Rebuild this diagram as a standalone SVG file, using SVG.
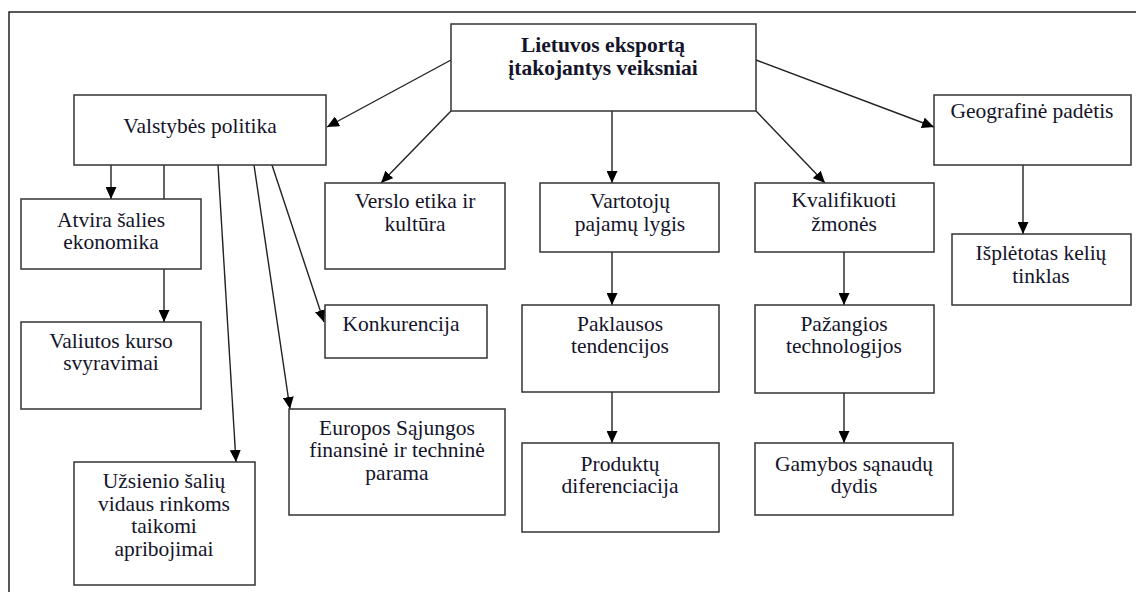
<svg xmlns="http://www.w3.org/2000/svg" width="1136" height="592" viewBox="0 0 1136 592">
<defs>
<style>
.box{fill:#fff;stroke:#333;stroke-width:1.5}
.t{font-size:21.5px;fill:#14142a;text-anchor:middle}
.b{font-weight:bold}
.c{stroke:#222;stroke-width:1.4;fill:none;marker-end:url(#ah)}
</style>
<marker id="ah" viewBox="0 0 12 11" refX="12" refY="5.5" markerWidth="12" markerHeight="11" markerUnits="userSpaceOnUse" orient="auto">
<path d="M0,0 L12,5.5 L0,11 Z" fill="#000"/>
</marker>
</defs>
<rect width="1136" height="592" fill="#fff"/>
<path d="M9,592 V12 H1136" fill="none" stroke="#222" stroke-width="1.5"/>

<g id="connectors">
<line class="c" x1="451" y1="60" x2="327" y2="127"/>
<line class="c" x1="451" y1="111" x2="381" y2="183"/>
<line class="c" x1="612" y1="111" x2="612" y2="183"/>
<line class="c" x1="756" y1="111" x2="825" y2="183"/>
<line class="c" x1="756" y1="60" x2="934" y2="127"/>
<line class="c" x1="111" y1="165" x2="111" y2="199"/>
<line class="c" x1="164" y1="165" x2="164" y2="322"/>
<line class="c" x1="218" y1="165" x2="236" y2="462"/>
<line class="c" x1="254" y1="165" x2="290" y2="409"/>
<line class="c" x1="272" y1="165" x2="324" y2="322"/>
<line class="c" x1="612" y1="252" x2="612" y2="305"/>
<line class="c" x1="612" y1="392" x2="612" y2="443"/>
<line class="c" x1="844" y1="252" x2="844" y2="305"/>
<line class="c" x1="844" y1="393" x2="844" y2="443"/>
<line class="c" x1="1023" y1="165" x2="1023" y2="234"/>
</g>

<g font-family="'Liberation Serif', 'DejaVu Serif', 'Times New Roman', serif">
<g id="n-top">
<rect class="box" x="451" y="24" width="305" height="87"/>
<text class="t b" x="603" y="52">Lietuvos eksportą</text>
<text class="t b" x="603" y="75">įtakojantys veiksniai</text>
</g>

<g id="n-valstybes">
<rect class="box" x="74" y="95" width="252" height="70"/>
<text class="t" x="200" y="133">Valstybės politika</text>
</g>

<g id="n-atvira">
<rect class="box" x="21" y="199" width="180" height="70"/>
<text class="t" x="111" y="227">Atvira šalies</text>
<text class="t" x="111" y="249">ekonomika</text>
</g>

<g id="n-valiutos">
<rect class="box" x="21" y="322" width="180" height="87"/>
<text class="t" x="111" y="348">Valiutos kurso</text>
<text class="t" x="111" y="370">svyravimai</text>
</g>

<g id="n-uzsienio">
<rect class="box" x="74" y="462" width="181" height="123"/>
<text class="t" x="164" y="488">Užsienio šalių</text>
<text class="t" x="164" y="511">vidaus rinkoms</text>
<text class="t" x="164" y="533">taikomi</text>
<text class="t" x="164" y="556">apribojimai</text>
</g>

<g id="n-verslo">
<rect class="box" x="325" y="183" width="180" height="86"/>
<text class="t" x="415" y="208">Verslo etika ir</text>
<text class="t" x="415" y="231">kultūra</text>
</g>

<g id="n-konkurencija">
<rect class="box" x="325" y="305" width="162" height="53"/>
<text class="t" x="401" y="331">Konkurencija</text>
</g>

<g id="n-europos">
<rect class="box" x="289" y="409" width="216" height="106"/>
<text class="t" x="397" y="435">Europos Sąjungos</text>
<text class="t" x="397" y="457">finansinė ir techninė</text>
<text class="t" x="397" y="480">parama</text>
</g>

<g id="n-vartotoju">
<rect class="box" x="540" y="183" width="179" height="69"/>
<text class="t" x="630" y="208">Vartotojų</text>
<text class="t" x="630" y="231">pajamų lygis</text>
</g>

<g id="n-paklausos">
<rect class="box" x="522" y="305" width="197" height="87"/>
<text class="t" x="620" y="331">Paklausos</text>
<text class="t" x="620" y="353">tendencijos</text>
</g>

<g id="n-produktu">
<rect class="box" x="522" y="443" width="197" height="89"/>
<text class="t" x="620" y="471">Produktų</text>
<text class="t" x="620" y="493">diferenciacija</text>
</g>

<g id="n-kvalifikuoti">
<rect class="box" x="755" y="183" width="179" height="69"/>
<text class="t" x="844" y="207">Kvalifikuoti</text>
<text class="t" x="844" y="231">žmonės</text>
</g>

<g id="n-pazangios">
<rect class="box" x="755" y="305" width="179" height="88"/>
<text class="t" x="844" y="331">Pažangios</text>
<text class="t" x="844" y="353">technologijos</text>
</g>

<g id="n-gamybos">
<rect class="box" x="755" y="443" width="198" height="72"/>
<text class="t" x="854" y="471">Gamybos sąnaudų</text>
<text class="t" x="854" y="493">dydis</text>
</g>

<g id="n-geografine">
<rect class="box" x="934" y="95" width="197" height="70"/>
<text class="t" x="1032" y="118">Geografinė padėtis</text>
</g>

<g id="n-isplėtotas">
<rect class="box" x="952" y="234" width="179" height="71"/>
<text class="t" x="1041" y="260">Išplėtotas kelių</text>
<text class="t" x="1041" y="283">tinklas</text>
</g>
</g>
</svg>
